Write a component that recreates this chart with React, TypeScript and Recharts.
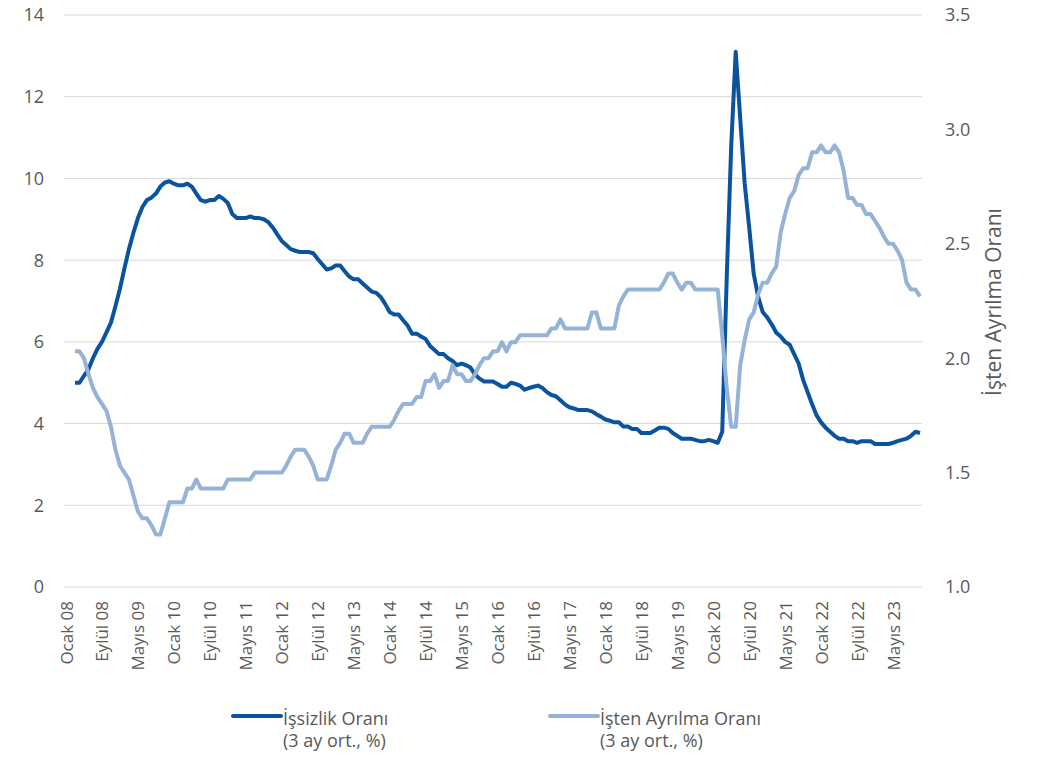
import { LineChart, Line, XAxis, YAxis, CartesianGrid, Legend } from 'recharts';

const years = ['08', '09', '10', '11', '12', '13', '14', '15', '16', '17', '18', '19', '20', '21', '22', '23'];
const monthNames = ['Ocak', 'Şubat', 'Mart', 'Nisan', 'Mayıs', 'Haziran', 'Temmuz', 'Ağustos', 'Eylül', 'Ekim', 'Kasım', 'Aralık'];

// Ocak 08 - Kasım 23
const months = years.flatMap((y) => monthNames.map((m) => `${m} ${y}`)).slice(0, 191);

const unemployment = [
  null, null, 5.0, 5.0, 5.17, 5.33, 5.6, 5.83, 6.0, 6.23, 6.47, 6.87,
  7.3, 7.8, 8.27, 8.67, 9.03, 9.3, 9.47, 9.53, 9.63, 9.8, 9.9, 9.93,
  9.87, 9.83, 9.83, 9.87, 9.8, 9.63, 9.47, 9.43, 9.47, 9.47, 9.57, 9.5,
  9.4, 9.13, 9.03, 9.03, 9.03, 9.07, 9.03, 9.03, 9.0, 8.93, 8.8, 8.63,
  8.47, 8.37, 8.27, 8.23, 8.2, 8.2, 8.2, 8.17, 8.03, 7.9, 7.77, 7.8,
  7.87, 7.87, 7.73, 7.6, 7.53, 7.53, 7.43, 7.33, 7.23, 7.2, 7.1, 6.93,
  6.73, 6.67, 6.67, 6.53, 6.4, 6.2, 6.2, 6.13, 6.07, 5.9, 5.8, 5.7,
  5.7, 5.6, 5.53, 5.43, 5.47, 5.43, 5.37, 5.2, 5.1, 5.03, 5.03, 5.03,
  4.97, 4.9, 4.9, 5.0, 4.97, 4.93, 4.83, 4.87, 4.9, 4.93, 4.87, 4.77,
  4.7, 4.67, 4.57, 4.47, 4.4, 4.37, 4.33, 4.33, 4.33, 4.3, 4.23, 4.17,
  4.1, 4.07, 4.03, 4.03, 3.93, 3.93, 3.87, 3.87, 3.77, 3.77, 3.77, 3.83,
  3.9, 3.9, 3.87, 3.77, 3.7, 3.63, 3.63, 3.63, 3.6, 3.57, 3.57, 3.6,
  3.57, 3.53, 3.8, 7.57, 10.8, 13.1, 11.47, 9.87, 8.8, 7.67, 7.1, 6.73,
  6.6, 6.43, 6.23, 6.13, 6.0, 5.93, 5.7, 5.47, 5.07, 4.77, 4.47, 4.2,
  4.03, 3.9, 3.8, 3.7, 3.63, 3.63, 3.57, 3.57, 3.53, 3.57, 3.57, 3.57,
  3.5, 3.5, 3.5, 3.5, 3.53, 3.57, 3.6, 3.63, 3.7, 3.8, 3.77,
];

const quits = [
  null, null, 2.03, 2.03, 2.0, 1.93, 1.87, 1.83, 1.8, 1.77, 1.7, 1.6,
  1.53, 1.5, 1.47, 1.4, 1.33, 1.3, 1.3, 1.27, 1.23, 1.23, 1.3, 1.37,
  1.37, 1.37, 1.37, 1.43, 1.43, 1.47, 1.43, 1.43, 1.43, 1.43, 1.43, 1.43,
  1.47, 1.47, 1.47, 1.47, 1.47, 1.47, 1.5, 1.5, 1.5, 1.5, 1.5, 1.5,
  1.5, 1.53, 1.57, 1.6, 1.6, 1.6, 1.57, 1.53, 1.47, 1.47, 1.47, 1.53,
  1.6, 1.63, 1.67, 1.67, 1.63, 1.63, 1.63, 1.67, 1.7, 1.7, 1.7, 1.7,
  1.7, 1.73, 1.77, 1.8, 1.8, 1.8, 1.83, 1.83, 1.9, 1.9, 1.93, 1.87,
  1.9, 1.9, 1.97, 1.93, 1.93, 1.9, 1.9, 1.93, 1.97, 2.0, 2.0, 2.03,
  2.03, 2.07, 2.03, 2.07, 2.07, 2.1, 2.1, 2.1, 2.1, 2.1, 2.1, 2.1,
  2.13, 2.13, 2.17, 2.13, 2.13, 2.13, 2.13, 2.13, 2.13, 2.2, 2.2, 2.13,
  2.13, 2.13, 2.13, 2.23, 2.27, 2.3, 2.3, 2.3, 2.3, 2.3, 2.3, 2.3,
  2.3, 2.33, 2.37, 2.37, 2.33, 2.3, 2.33, 2.33, 2.3, 2.3, 2.3, 2.3,
  2.3, 2.3, 2.1, 1.87, 1.7, 1.7, 1.97, 2.08, 2.17, 2.2, 2.28, 2.33,
  2.33, 2.37, 2.4, 2.55, 2.63, 2.7, 2.73, 2.8, 2.83, 2.83, 2.9, 2.9,
  2.93, 2.9, 2.9, 2.93, 2.9, 2.82, 2.7, 2.7, 2.67, 2.67, 2.63, 2.63,
  2.6, 2.57, 2.53, 2.5, 2.5, 2.47, 2.43, 2.33, 2.3, 2.3, 2.27,
];

const leftTicks = [0, 2, 4, 6, 8, 10, 12, 14];
const rightTicks = [1.0, 1.5, 2.0, 2.5, 3.0, 3.5];

const DARK = '#0A539E';
const LIGHT = '#95B3D7';
const TEXT = '#595959';
const FONT = "'Open Sans', sans-serif";

const data = months.map((month, i) => ({
  month,
  issizlik: unemployment[i],
  istenAyrilma: quits[i],
}));

const MonthTick = ({ x, y, payload }: any) => (
  <text
    x={x}
    y={y}
    transform={`rotate(-90 ${x} ${y})`}
    textAnchor="end"
    dominantBaseline="central"
    fill={TEXT}
    fontSize={17}
    fontFamily={FONT}
  >
    {payload.value}
  </text>
);

const ChartLegend = () => (
  <svg width={1022} height={76} style={{ display: 'block' }}>
    <g fontFamily={FONT} fontSize={18} fill={TEXT}>
      <line x1={225} x2={273} y1={34} y2={34} stroke={DARK} strokeWidth={4} strokeLinecap="round" />
      <text x={275} y={43}>İşsizlik Oranı</text>
      <text x={275} y={65}>(3 ay ort., %)</text>
      <line x1={542} x2={590} y1={34} y2={34} stroke={LIGHT} strokeWidth={4} strokeLinecap="round" />
      <text x={592} y={43}>İşten Ayrılma Oranı</text>
      <text x={592} y={65}>(3 ay ort., %)</text>
    </g>
  </svg>
);

const App = () => {
  return (
    <div style={{ marginTop: -8 }}>
      <LineChart width={1022} height={758} data={data} margin={{ top: 15, right: 0, bottom: 0, left: 0 }}>
        <CartesianGrid vertical={false} stroke="#D9D9D9" yAxisId="left" />
        <XAxis
          dataKey="month"
          interval={7}
          tick={<MonthTick />}
          tickLine={false}
          axisLine={false}
          tickSize={0}
          tickMargin={14}
          height={95}
          padding={{ left: 2, right: 2 }}
        />
        <YAxis
          yAxisId="left"
          domain={[0, 14]}
          ticks={leftTicks}
          width={56}
          tickLine={false}
          axisLine={false}
          tickSize={0}
          tickMargin={20}
          tick={{ fill: TEXT, fontSize: 18, fontFamily: FONT }}
        />
        <YAxis
          yAxisId="right"
          orientation="right"
          domain={[1, 3.5]}
          ticks={rightTicks}
          width={108}
          tickLine={false}
          axisLine={false}
          tickSize={0}
          tickMargin={23}
          tickFormatter={(v: number) => v.toFixed(1)}
          tick={{ fill: TEXT, fontSize: 18, fontFamily: FONT }}
          label={() => (
            <text
              transform="translate(985 302) rotate(-90)"
              textAnchor="middle"
              dominantBaseline="central"
              fill={TEXT}
              fontSize={21}
              fontFamily={FONT}
            >
              İşten Ayrılma Oranı
            </text>
          )}
        />
        <Legend verticalAlign="bottom" content={() => <ChartLegend />} />
        <Line
          yAxisId="left"
          type="linear"
          dataKey="issizlik"
          name="İşsizlik Oranı (3 ay ort., %)"
          stroke={DARK}
          strokeWidth={4}
          strokeLinejoin="round"
          dot={false}
          isAnimationActive={false}
        />
        <Line
          yAxisId="right"
          type="linear"
          dataKey="istenAyrilma"
          name="İşten Ayrılma Oranı (3 ay ort., %)"
          stroke={LIGHT}
          strokeWidth={4}
          strokeLinejoin="round"
          dot={false}
          isAnimationActive={false}
        />
      </LineChart>
    </div>
  );
};

export default App;
